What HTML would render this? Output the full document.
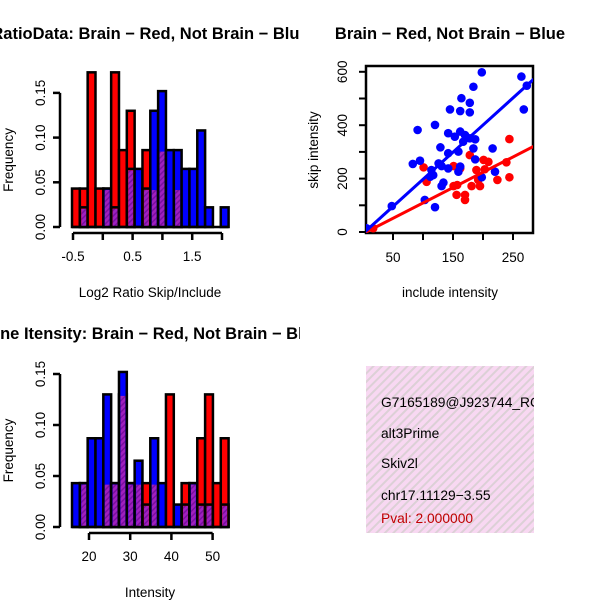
<!DOCTYPE html>
<html><head><meta charset="utf-8"><style>
body{margin:0;background:#fff}
svg{display:block;font-family:"Liberation Sans",sans-serif}
</style></head><body>
<svg id="c" width="600" height="600">
<defs>
<pattern id="hatch" width="6" height="6" patternUnits="userSpaceOnUse" patternTransform="rotate(45)">
<rect width="6" height="6" fill="#f8d8f2"/><rect width="2" height="6" fill="#dcd0d6"/></pattern>
<pattern id="purp" width="4" height="4" patternUnits="userSpaceOnUse" patternTransform="rotate(45)">
<rect width="4" height="4" fill="#a020c0"/><rect width="1.5" height="4" fill="#7a10a0"/></pattern>
<clipPath id="sclip"><rect x="366" y="66" width="167" height="167"/></clipPath>
<clipPath id="lclip"><rect x="0" y="0" width="300" height="600"/></clipPath>
</defs>
<g id="g1" clip-path="url(#lclip)"></g>
<g id="g2"></g>
<g id="g3" clip-path="url(#lclip)"></g>
<g>
<rect x="366" y="366" width="168" height="167" fill="url(#hatch)"/>
<text x="381" y="407" font-size="13.8">G7165189@J923744_RC</text>
<text x="381" y="438" font-size="13.8">alt3Prime</text>
<text x="381" y="468" font-size="13.8">Skiv2l</text>
<text x="381" y="500" font-size="13.8">chr17.11129−3.55</text>
<text x="381" y="523" font-size="13.8" fill="#c00000">Pval: 2.000000</text>
</g>
<rect x="534" y="366" width="66" height="167" fill="#fff"/>
</svg>
<script>
// ---- Histogram 1 data ----
const ratioRed  = [0.043,0.043,0.173,0.043,0.043,0.173,0.086,0.13,0,0.086,0.043,0.086,0,0.043,0,0,0,0,0,0];
const ratioBlue = [0,0.022,0,0,0.043,0.022,0,0.065,0.065,0.043,0.13,0.152,0.086,0.086,0.065,0.065,0.108,0.022,0,0.022];
const ratioXTicks = [-0.5,0,0.5,1,1.5,2];
const ratioXLabels = ["-0.5","","0.5","","1.5",""];
const ratioYTicks = [0,0.05,0.10,0.15];
// ---- Histogram 2 data ----
const intRed  = [0,0.043,0,0,0.043,0.043,0.13,0.043,0.043,0.043,0.043,0,0.13,0,0.043,0.043,0.087,0.13,0.043,0.087];
const intBlue = [0.043,0.043,0.087,0.087,0.13,0.043,0.152,0.043,0.065,0.022,0.087,0.043,0,0.022,0.022,0.043,0.022,0.022,0,0.022];
const intXTicks = [20,30,40,50];
const intYTicks = [0,0.05,0.10,0.15];
// ---- Scatter data ----
const blueX = [198,264,273,184,164,178,145,162,178,268,91,120,142,162,153,170,178,187,167,184,129,142,159,216,95,83,187,126,131,142,114,162,159,220,117,112,198,134,131,48,103,120,6];
const blueY = [598,582,548,544,501,484,459,453,448,459,382,401,370,376,357,363,351,347,338,313,317,295,301,313,267,255,272,257,247,238,232,245,226,226,213,207,205,185,172,97,120,93,14];
const redX = [101,106,151,162,178,201,209,189,203,244,239,244,224,192,181,195,151,157,156,170,170,17];
const redY = [242,188,247,238,288,270,263,232,235,348,261,205,195,195,172,172,172,176,139,139,120,14];
const scXTicks = [50,100,150,200,250];
const scXLabels = ["50","","150","","250"];
const scYTicks = [0,100,200,300,400,500,600];
const scYLabels = ["0","","200","","400","","600"];

const FS=13.5;
const NS="http://www.w3.org/2000/svg";
function mk(p,t,a){const e=document.createElementNS(NS,t);for(const k in a)e.setAttribute(k,a[k]);p.appendChild(e);return e;}

function hist(g,red,blue,o){
  const sx=v=>o.x0px+(v-o.x0)*o.kx, sy=v=>o.y0px-v*o.ky;
  const bw=o.binW;
  red.forEach((r,i)=>{
    const b=blue[i],xa=sx(o.binStart+i*bw),w=bw*o.kx;
    if(r>0){const e=mk(g,'rect',{x:xa,y:sy(r),width:w,height:r*o.ky,fill:'#ff0000',stroke:'#000','stroke-width':2.5});
      
      }
    if(b>0){const e=mk(g,'rect',{x:xa,y:sy(b),width:w,height:b*o.ky,fill:'#0000ff',stroke:'#000','stroke-width':2.5});
      
      
      if(r>b){e.setAttribute('fill-opacity','0');}}
    const m=Math.min(r,b);
    if(m>0){const e=mk(g,'rect',{x:xa+1.5,y:sy(m)+1.5,width:w-3,height:m*o.ky-1.5,fill:'url(#purp)'});
      
      }
  });
  mk(g,'line',{x1:sx(o.binStart),x2:sx(o.binStart+bw*red.length),y1:o.y0px,y2:o.y0px,stroke:'#000','stroke-width':2.5});
  const yt=o.yTicks;
  mk(g,'line',{x1:o.yAxX,x2:o.yAxX,y1:sy(yt[0]),y2:sy(yt[yt.length-1]),stroke:'#000','stroke-width':2.5});
  yt.forEach(v=>{mk(g,'line',{x1:o.yAxX-7,x2:o.yAxX,y1:sy(v),y2:sy(v),stroke:'#000','stroke-width':2.5});
    const t=mk(g,'text',{x:o.yAxX-15,y:sy(v),'font-size':FS,'text-anchor':'middle',transform:`rotate(-90 ${o.yAxX-15} ${sy(v)})`});
    t.textContent=v.toFixed(2);
    
    });
  const xt=o.xTicks;
  mk(g,'line',{x1:sx(xt[0]),x2:sx(xt[xt.length-1]),y1:o.xAxY,y2:o.xAxY,stroke:'#000','stroke-width':2.5});
  xt.forEach((v,i)=>{mk(g,'line',{x1:sx(v),x2:sx(v),y1:o.xAxY,y2:o.xAxY+7,stroke:'#000','stroke-width':2.5});
    const t=mk(g,'text',{x:sx(v),y:o.xAxY+28,'font-size':FS,'text-anchor':'middle'});
    t.textContent=o.xLabels?o.xLabels[i]:String(v);
    
    });
  let t=mk(g,'text',{x:150,y:o.xAxY+64,'font-size':FS,'text-anchor':'middle'});t.textContent=o.xTitle;
  
  
  const cy=(sy(yt[0])+sy(yt[yt.length-1]))/2;
  t=mk(g,'text',{x:13,y:cy,'font-size':FS,'text-anchor':'middle',transform:`rotate(-90 13 ${cy})`});t.textContent='Frequency';
  
  
  t=mk(g,'text',{x:150,y:o.titleY,'font-size':16.5,'font-weight':'bold','text-anchor':'middle'});t.textContent=o.title;
  
  
}
const kx1=29.8/0.5;
hist(document.getElementById('g1'),ratioRed,ratioBlue,{x0:-0.5,x0px:73,kx:kx1,binStart:-0.5-1/kx1,binW:7.83/kx1,
  y0px:227,ky:44.7/0.05,yAxX:60,yTicks:ratioYTicks,xTicks:ratioXTicks,xLabels:ratioXLabels,xAxY:233,
  xTitle:'Log2 Ratio Skip/Include',title:'RatioData: Brain − Red, Not Brain − Blue',titleY:39});
const kx3=41.2/10;
hist(document.getElementById('g3'),intRed,intBlue,{x0:20,x0px:89,kx:kx3,binStart:20-17/kx3,binW:7.83/kx3,
  y0px:527,ky:51/0.05,yAxX:60,yTicks:intYTicks,xTicks:intXTicks,xAxY:533,
  xTitle:'Intensity',title:'Gene Itensity: Brain − Red, Not Brain − Blue',titleY:339});

(function(){
  const g=document.getElementById('g2');
  const sx=v=>363+v*30/50, sy=v=>232-v*26.7/100;
  const fr=mk(g,'rect',{x:366,y:66,width:167,height:167,fill:'none',stroke:'#000','stroke-width':2.5});
  
  
  scXTicks.forEach((v,i)=>{mk(g,'line',{x1:sx(v),x2:sx(v),y1:233,y2:240,stroke:'#000','stroke-width':2});
    const t=mk(g,'text',{x:sx(v),y:262,'font-size':FS,'text-anchor':'middle'});t.textContent=scXLabels[i];
    
    });
  scYTicks.forEach((v,i)=>{mk(g,'line',{x1:359,x2:366,y1:sy(v),y2:sy(v),stroke:'#000','stroke-width':2});
    const t=mk(g,'text',{x:347,y:sy(v),'font-size':FS,'text-anchor':'middle',transform:`rotate(-90 347 ${sy(v)})`});t.textContent=scYLabels[i];
    
    });
  const cg=mk(g,'g',{'clip-path':'url(#sclip)'});
  function fit0(X,Y){let sxy=0,sxx=0;X.forEach((x,i)=>{sxy+=x*Y[i];sxx+=x*x});return sxy/sxx;}
  [[redX,redY,'#ff0000','red'],[blueX,blueY,'#0000ff','blue']].forEach(([X,Y,c,n])=>{
    X.forEach((x,i)=>{const e=mk(cg,'circle',{cx:sx(x),cy:sy(Y[i]),r:4.3,fill:c});
      
      });
  });
  [[redX,redY,'#ff0000','red'],[blueX,blueY,'#0000ff','blue']].forEach(([X,Y,c,n])=>{
    const b=fit0(X,Y), a=-6;
    const l=mk(cg,'line',{x1:sx(0),y1:sy(a),x2:sx(300),y2:sy(a+b*300),stroke:c,'stroke-width':3});
    
    
  });
  let t=mk(g,'text',{x:450,y:297,'font-size':FS,'text-anchor':'middle'});t.textContent='include intensity';
  
  
  t=mk(g,'text',{x:318,y:150,'font-size':FS,'text-anchor':'middle',transform:'rotate(-90 318 150)'});t.textContent='skip intensity';
  
  
  t=mk(g,'text',{x:450,y:39,'font-size':16.5,'font-weight':'bold','text-anchor':'middle'});t.textContent='Brain − Red, Not Brain − Blue';
  
  
})();
</script>
</body></html>
